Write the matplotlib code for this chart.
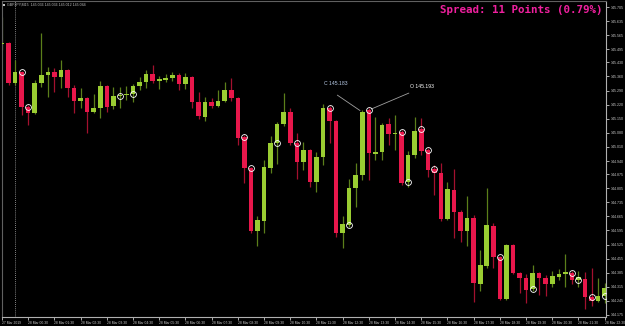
import numpy as np
import matplotlib
matplotlib.use("Agg")
from matplotlib import pyplot as plt
from matplotlib.patches import Rectangle

# GBPJPY M15 candles, 27 Mar 23:30 -> 28 Mar 22:30
opens = [145.521, 145.526, 145.328, 145.382, 145.208, 145.179, 145.328, 145.367, 145.382, 145.358,
         145.392, 145.303, 145.238, 145.253, 145.184, 145.204, 145.313, 145.213, 145.263, 145.268,
         145.273, 145.313, 145.333, 145.372, 145.338, 145.343, 145.353, 145.367, 145.323, 145.358,
         145.233, 145.159, 145.233, 145.213, 145.238, 145.293, 145.253, 145.059, 144.905, 144.592,
         144.642, 144.905, 145.030, 145.124, 145.184, 145.030, 144.935, 144.995, 144.836, 144.960,
         145.204, 145.139, 144.582, 144.622, 144.806, 144.871, 145.193, 144.975, 144.985, 145.124,
         145.074, 145.084, 144.836, 144.970, 145.099, 144.995, 144.900, 144.881, 144.652, 144.796,
         144.687, 144.592, 144.657, 144.329, 144.419, 144.617, 144.463, 144.255, 144.523, 144.384,
         144.359, 144.304, 144.384, 144.359, 144.329, 144.364, 144.379, 144.384, 144.349, 144.354,
         144.265, 144.245, 144.270]
highs = [145.656, 145.531, 145.442, 145.387, 145.218, 145.343, 145.576, 145.407, 145.402, 145.442,
         145.397, 145.318, 145.303, 145.258, 145.273, 145.338, 145.318, 145.308, 145.308, 145.313,
         145.323, 145.358, 145.392, 145.417, 145.362, 145.372, 145.382, 145.377, 145.377, 145.362,
         145.283, 145.258, 145.253, 145.293, 145.333, 145.353, 145.258, 145.069, 144.910, 144.667,
         144.945, 145.064, 145.134, 145.278, 145.204, 145.079, 145.035, 145.000, 144.985, 145.223,
         145.213, 145.144, 144.667, 144.851, 144.930, 145.194, 145.204, 145.159, 145.129, 145.154,
         145.169, 145.094, 144.990, 145.159, 145.154, 145.005, 144.920, 144.930, 144.836, 144.900,
         144.697, 144.766, 144.672, 144.498, 144.806, 144.632, 144.468, 144.528, 144.528, 144.389,
         144.379, 144.424, 144.389, 144.374, 144.394, 144.404, 144.478, 144.394, 144.394, 144.389,
         144.409, 144.359, 144.334]
lows = [145.492, 145.318, 145.318, 145.169, 145.119, 145.174, 145.308, 145.258, 145.283, 145.303,
        145.258, 145.179, 145.204, 145.079, 145.179, 145.154, 145.184, 145.199, 145.204, 145.243,
        145.233, 145.293, 145.303, 145.328, 145.298, 145.333, 145.338, 145.293, 145.298, 145.204,
        145.149, 145.139, 145.204, 145.208, 145.233, 145.238, 145.020, 144.831, 144.582, 144.518,
        144.582, 144.881, 144.925, 145.114, 145.020, 144.851, 144.895, 144.811, 144.786, 144.920,
        145.030, 144.563, 144.508, 144.612, 144.712, 144.846, 144.846, 144.945, 144.945, 145.020,
        144.995, 144.821, 144.811, 144.955, 144.970, 144.861, 144.771, 144.642, 144.647, 144.558,
        144.538, 144.518, 144.240, 144.294, 144.409, 144.409, 144.250, 144.250, 144.379, 144.284,
        144.235, 144.294, 144.274, 144.269, 144.314, 144.349, 144.314, 144.329, 144.314, 144.205,
        144.220, 144.240, 144.235]
closes = [145.526, 145.328, 145.382, 145.208, 145.179, 145.328, 145.367, 145.382, 145.358, 145.392,
          145.303, 145.238, 145.253, 145.184, 145.204, 145.313, 145.208, 145.263, 145.268, 145.273,
          145.313, 145.333, 145.372, 145.338, 145.348, 145.353, 145.367, 145.323, 145.358, 145.233,
          145.164, 145.233, 145.213, 145.238, 145.293, 145.253, 145.054, 144.905, 144.592, 144.647,
          144.910, 145.030, 145.124, 145.184, 145.030, 144.935, 144.995, 144.836, 144.960, 145.204,
          145.139, 144.582, 144.627, 144.806, 144.871, 145.183, 144.980, 144.985, 145.119, 145.074,
          145.079, 144.831, 144.970, 145.089, 144.990, 144.895, 144.881, 144.652, 144.801, 144.687,
          144.592, 144.657, 144.334, 144.424, 144.622, 144.463, 144.255, 144.523, 144.384, 144.359,
          144.299, 144.384, 144.359, 144.329, 144.369, 144.379, 144.389, 144.349, 144.364, 144.265,
          144.245, 144.270, 144.309]

# bars marked with a small white ring at their open
marked = [3, 4, 18, 20, 37, 38, 42, 45, 50, 53, 56, 61, 62, 64, 65, 66, 76, 81, 87, 88, 90, 92]

price_ticks = [145.705, 145.635, 145.565, 145.495, 145.430, 145.360, 145.290, 145.220,
               145.150, 145.080, 145.010, 144.940, 144.875, 144.805, 144.735, 144.665,
               144.595, 144.525, 144.455, 144.385, 144.315, 144.245, 144.175]
time_labels = ['27 Mar 2019', '28 Mar 00:30', '28 Mar 01:30', '28 Mar 02:30', '28 Mar 03:30',
               '28 Mar 04:30', '28 Mar 05:30', '28 Mar 06:30', '28 Mar 07:30', '28 Mar 08:30',
               '28 Mar 09:30', '28 Mar 10:30', '28 Mar 11:30', '28 Mar 12:30', '28 Mar 13:30',
               '28 Mar 14:30', '28 Mar 15:30', '28 Mar 16:30', '28 Mar 17:30', '28 Mar 18:30',
               '28 Mar 19:30', '28 Mar 20:30', '28 Mar 21:30', '28 Mar 22:30']
day_start_bar = 2

o = np.array(opens)
h = np.array(highs)
l = np.array(lows)
c = np.array(closes)
x = np.arange(len(o))
up = c >= o

BULL, BEAR = '#9acd32', '#e8174b'
BULL_WICK, BEAR_WICK = '#5b7f1a', '#a3102f'
AXC = '#c8c8c8'
SMALL = 'Liberation Sans'

fig = plt.figure(figsize=(6.25, 3.26), dpi=100, facecolor='black')
ax = fig.add_axes([2 / 625, 9 / 326, 604 / 625, 316 / 326], facecolor='black')

ax.axvline(day_start_bar, color='#b0b0b0', lw=0.6, ls=(0, (1, 1.5)), zorder=1)

ax.vlines(x[up], l[up], h[up], color=BULL_WICK, lw=0.9, zorder=2)
ax.vlines(x[~up], l[~up], h[~up], color=BEAR_WICK, lw=0.9, zorder=2)
ax.bar(x[up], c[up] - o[up], bottom=o[up], width=0.7, color=BULL, lw=0, zorder=3)
ax.bar(x[~up], c[~up] - o[~up], bottom=o[~up], width=0.7, color=BEAR, lw=0, zorder=3)

ax.plot(x[marked], o[marked], 'o', ms=4.2, mfc='none', mec='white', mew=0.6, zorder=4)

# price labels on two candles
ax.annotate('', xy=(55, c[55]), xytext=(-25, 17), textcoords='offset pixels',
            arrowprops=dict(arrowstyle='-', color='#a0a0a0', lw=0.6, shrinkA=0, shrinkB=2))
ax.annotate('C %.3f' % c[55], xy=(55, c[55]), xytext=(-26, 29), textcoords='offset pixels',
            ha='center', va='center', fontsize=3.7, family=SMALL, color='#b8cbe8')
ax.annotate('', xy=(56, o[56]), xytext=(40, 17), textcoords='offset pixels',
            arrowprops=dict(arrowstyle='-', color='#a0a0a0', lw=0.6, shrinkA=0, shrinkB=2))
ax.annotate('O %.3f' % o[56], xy=(56, o[56]), xytext=(41, 24), textcoords='offset pixels',
            ha='left', va='center', fontsize=3.7, family=SMALL, color='white')

ax.set_xlim(0.08, 92.2)
ax.set_ylim(144.165, 145.735)

ax.yaxis.tick_right()
ax.set_yticks(price_ticks)
ax.set_yticklabels(['%.3f' % p for p in price_ticks], fontsize=2.6, family=SMALL)
ax.set_xticks(x[::4])
ax.set_xticklabels(time_labels, ha='left', fontsize=2.45, family=SMALL)
ax.tick_params(colors=AXC, length=2, width=0.6, pad=1.2)

for side in ['left', 'top']:
    ax.spines[side].set_color('#606060')
for side in ['right', 'bottom']:
    ax.spines[side].set_color('#b0b0b0')
for s in ax.spines.values():
    s.set_linewidth(0.8)

fig.text(603 / 625, 1 - 10 / 326, 'Spread: 11 Points (0.79%)', ha='right', va='center',
         fontsize=7.8, fontweight='bold', family='DejaVu Sans Mono', color='#f0209f')
fig.add_artist(Rectangle((3 / 625, 1 - 6 / 326), 2 / 625, 2 / 326, transform=fig.transFigure,
                         facecolor='#c0c0c0', edgecolor='none'))
fig.text(7 / 625, 1 - 5 / 326, 'GBPJPY,M15  145.036 145.036 145.012 145.044', ha='left',
         va='center', fontsize=2.6, family=SMALL, color='#c0c0c0')

fig.savefig('out.png', dpi=100, facecolor='black')
